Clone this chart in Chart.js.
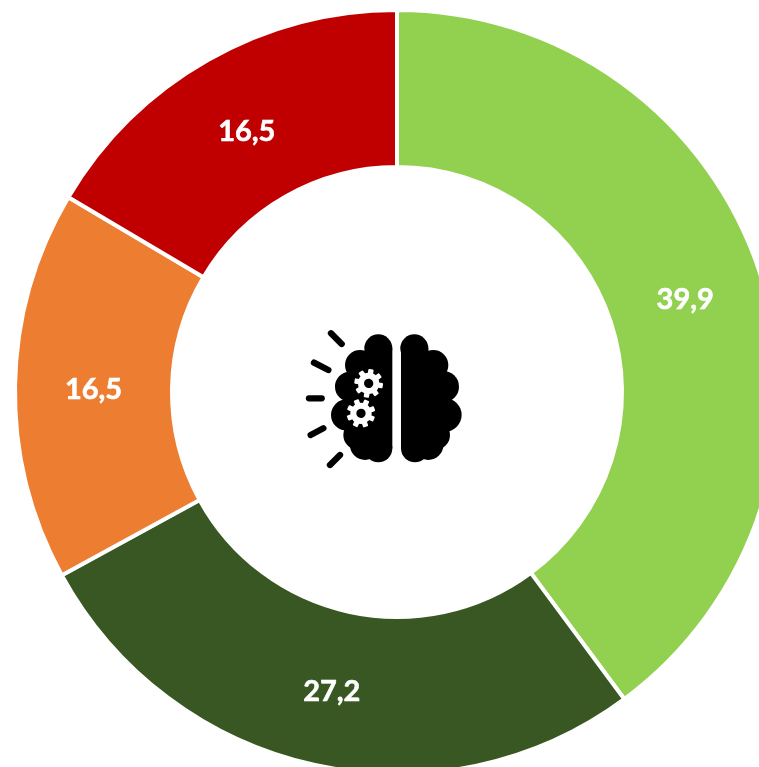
<!DOCTYPE html>
<html>
<head>
<meta charset="utf-8">
<script src="https://cdn.jsdelivr.net/npm/chart.js@4"></script>
<style>
html,body{margin:0;padding:0;background:#fff;width:759px;height:767px;overflow:hidden}
#wrap{position:relative;width:759px;height:767px;overflow:hidden}
canvas{position:absolute;left:0;top:0}
svg{position:absolute;left:0;top:0}
</style>
</head>
<body>
<div id="wrap">
<canvas id="c" width="794" height="784" style="width:794px;height:784px"></canvas>
<svg id="icon" width="759" height="767" viewBox="0 0 759 767" aria-hidden="true">
<g transform="translate(295 320) scale(0.3333)" id="brain">
<g fill="#000">
<circle cx="250" cy="85" r="42"/><circle cx="195" cy="135" r="45"/><circle cx="165" cy="200" r="45"/><circle cx="155" cy="285" r="47"/><circle cx="190" cy="345" r="45"/><circle cx="210" cy="375" r="45"/><circle cx="250" cy="385" r="42"/>
<rect x="210" y="85" width="82" height="300"/><rect x="160" y="150" width="60" height="190"/>
<circle cx="358" cy="85" r="42"/><circle cx="415" cy="135" r="45"/><circle cx="445" cy="200" r="47"/><circle cx="450" cy="285" r="50"/><circle cx="420" cy="345" r="45"/><circle cx="400" cy="375" r="45"/><circle cx="360" cy="385" r="42"/>
<rect x="318" y="85" width="82" height="300"/><rect x="390" y="150" width="60" height="190"/>
</g>
<g stroke="#000" stroke-width="19" stroke-linecap="round">
<line x1="108" y1="40" x2="140" y2="72"/><line x1="57" y1="128" x2="100" y2="150"/><line x1="42" y1="235" x2="80" y2="235"/><line x1="47" y1="345" x2="85" y2="325"/><line x1="105" y1="435" x2="135" y2="405"/>
</g>
</g>
</svg>
</div>
<script>
const categories = ["A", "B", "C", "D"];
const values = [39.9, 27.2, 16.5, 16.5];
const valueLabels = ["39,9", "27,2", "16,5", "16,5"];
const colors = ["#92D050", "#385723", "#ED7D31", "#C00000"];

// gears in the icon
const NS = "http://www.w3.org/2000/svg";
const brain = document.getElementById("brain");
[[221,190,10],[198,280,25]].forEach(([cx,cy,rot])=>{
  const g = document.createElementNS(NS,"g");
  g.setAttribute("transform",`translate(${cx} ${cy}) rotate(${rot})`);
  const mk=(tag,attrs)=>{const e=document.createElementNS(NS,tag);for(const k in attrs)e.setAttribute(k,attrs[k]);g.appendChild(e);return e;};
  mk("circle",{r:32,fill:"#fff"});
  for(let i=0;i<8;i++){mk("rect",{x:-8,y:-43,width:16,height:16,rx:3,fill:"#fff",transform:`rotate(${i*45})`});}
  mk("circle",{r:14,fill:"#000"});
  brain.appendChild(g);
});

const labelPlugin = {
  id: "sliceLabels",
  afterDatasetsDraw(chart){
    const ctx = chart.ctx;
    const meta = chart.getDatasetMeta(0);
    ctx.save();
    ctx.fillStyle = "#fff";
    ctx.strokeStyle = "#fff";
    ctx.lineWidth = 0.6;
    ctx.font = "bold 29px Lato, Carlito, sans-serif";
    ctx.textAlign = "center";
    ctx.textBaseline = "middle";
    meta.data.forEach((arc,i)=>{
      const p = arc.getCenterPoint();
      ctx.fillText(valueLabels[i], p.x, p.y + 3);
      ctx.strokeText(valueLabels[i], p.x, p.y + 3);
    });
    ctx.restore();
  }
};

new Chart(document.getElementById("c"),{
  type:"doughnut",
  data:{labels:categories,datasets:[{data:values,backgroundColor:colors,borderColor:"#fff",borderWidth:4}]},
  options:{
    responsive:false,
    animation:false,
    cutout:"58.9%",
    layout:{padding:{top:8,bottom:8,left:0,right:0}},
    plugins:{legend:{display:false},tooltip:{enabled:false}}
  },
  plugins:[labelPlugin]
});
</script>
</body>
</html>
